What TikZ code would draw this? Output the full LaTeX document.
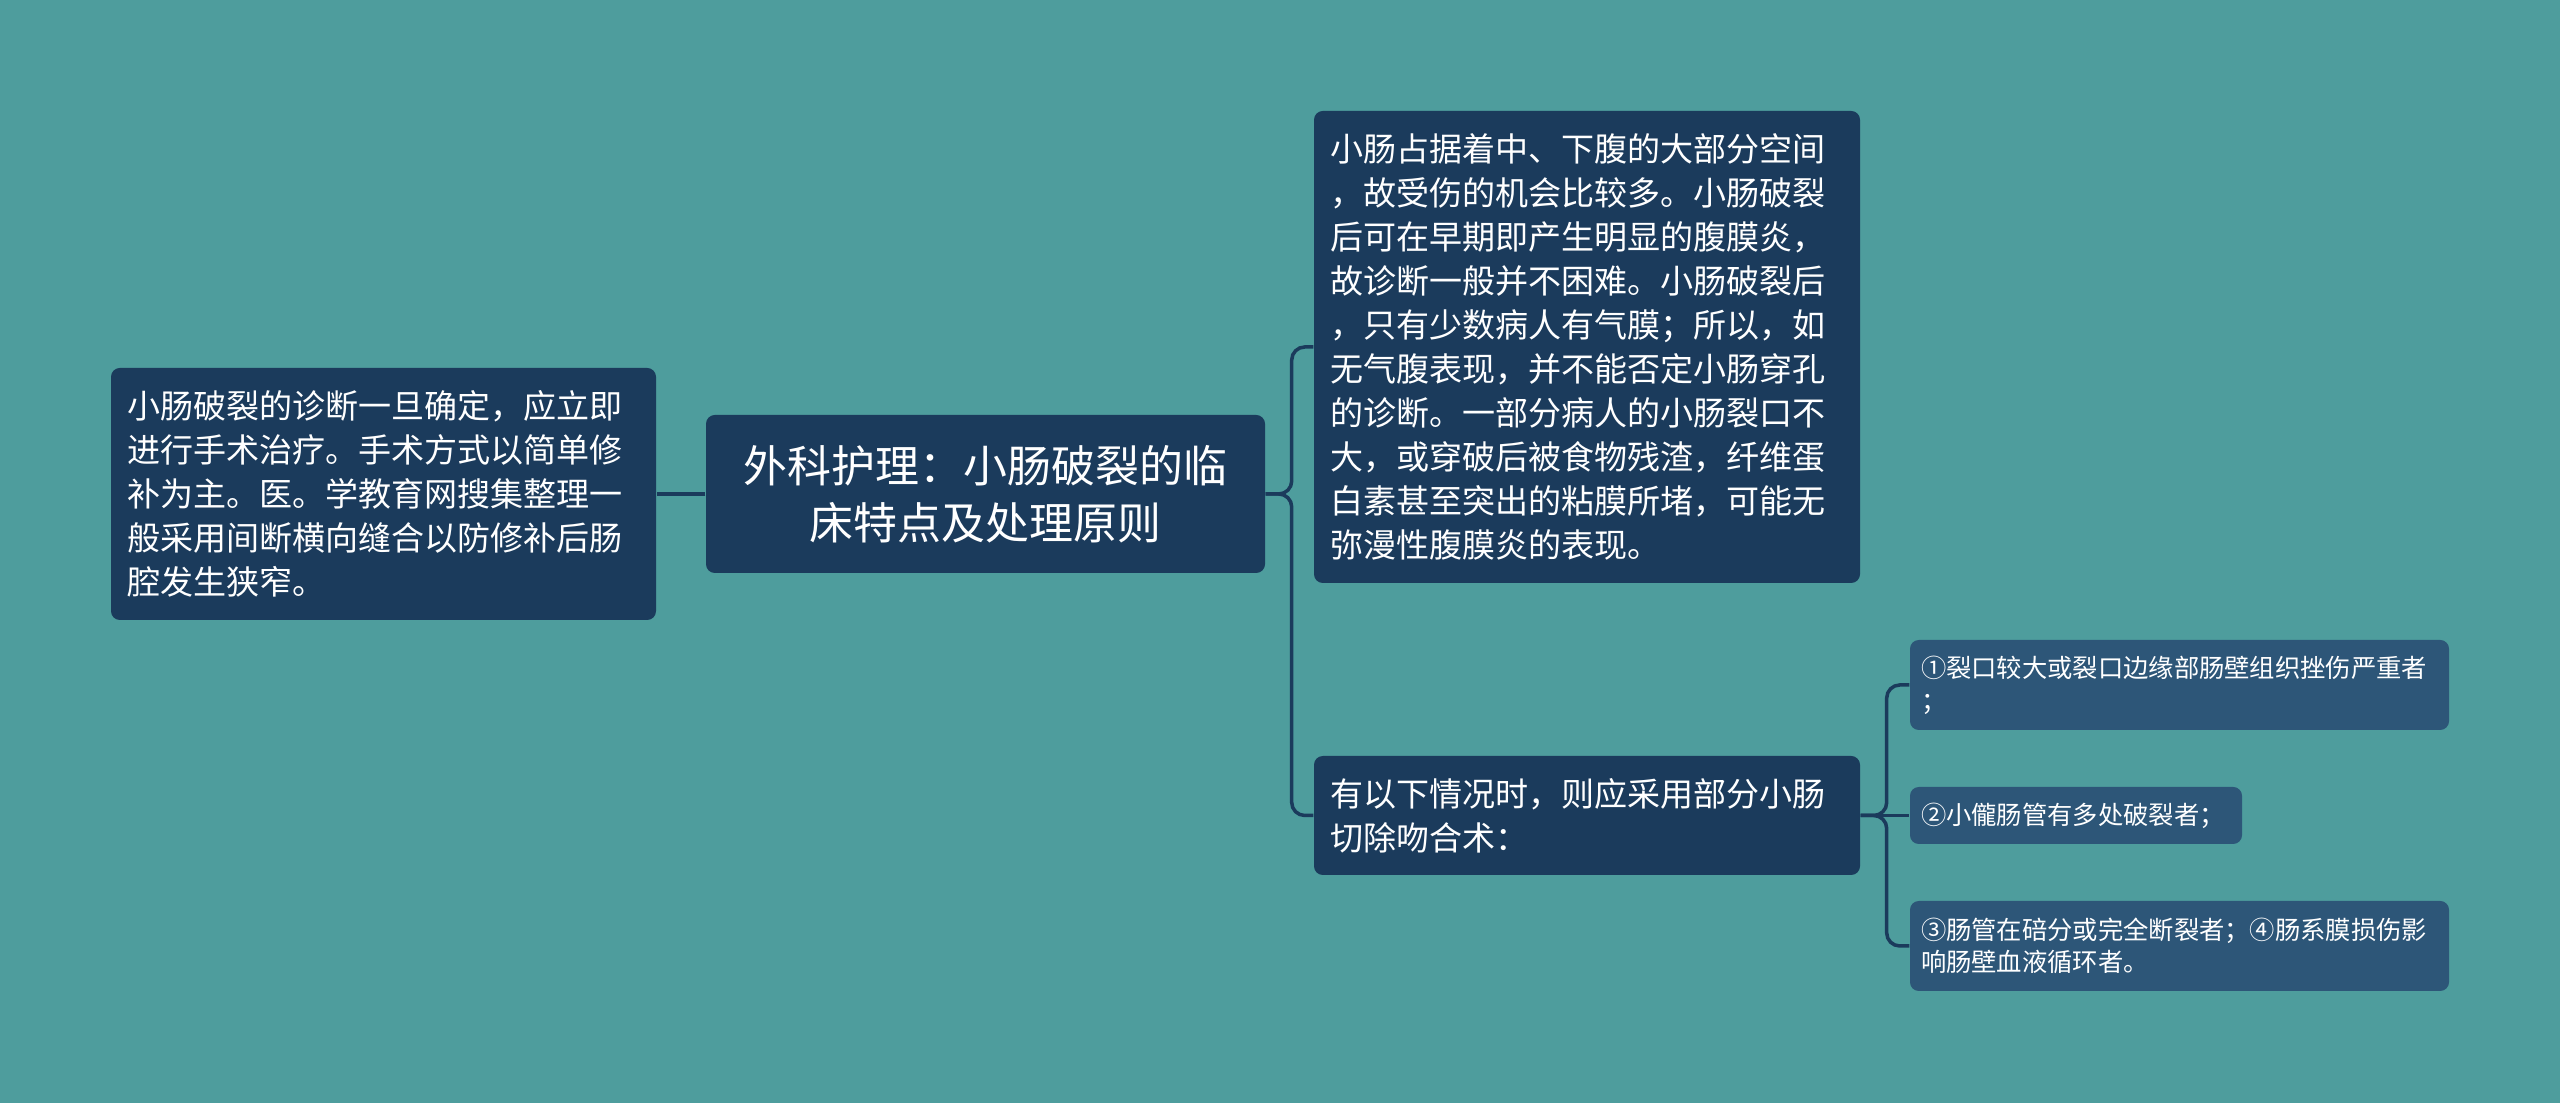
\documentclass[tikz,border=0pt]{standalone}
\usepackage{fontspec}
\setmainfont{Noto Sans CJK SC}
\usepackage{tikz}
\definecolor{bgteal}{RGB}{78,157,157}
\definecolor{boxnavy}{RGB}{27,59,92}
\definecolor{leafnavy}{RGB}{45,86,120}

\begin{document}
\begin{tikzpicture}[
	box/.style={fill=boxnavy,text=white,rounded corners=2.5pt,align=left,inner ysep=0pt,inner xsep=0.16cm,font=\fontsize{9.4pt}{12.5pt}\selectfont},
	leaf/.style={box,fill=leafnavy,inner xsep=0.11cm,font=\fontsize{7.2pt}{9.3pt}\selectfont},
	link/.style={draw=boxnavy,line width=1pt,rounded corners=0.13cm}]
	\fill[bgteal] (0,0) rectangle (25.6,11.03);
	
	\node[box,align=center,text width=5.27cm,minimum height=1.58cm,font=\fontsize{12.5pt}{16.2pt}\selectfont] (core) at (9.855,6.09) {外科护理：小肠破裂的临\\床特点及处理原则};
	\node[box,text width=5.13cm,minimum height=2.52cm] (left) at (3.835,6.09) {小肠破裂的诊断一旦确定，应立即\\进行手术治疗。手术方式以简单修\\补为主。医。学教育网搜集整理一\\般采用间断横向缝合以防修补后肠\\腔发生狭窄。};
	\node[box,text width=5.14cm,minimum height=4.72cm] (r1) at (15.87,7.56) {小肠占据着中、下腹的大部分空间\\，故受伤的机会比较多。小肠破裂\\后可在早期即产生明显的腹膜炎，\\故诊断一般并不困难。小肠破裂后\\，只有少数病人有气膜；所以，如\\无气腹表现，并不能否定小肠穿孔\\的诊断。一部分病人的小肠裂口不\\大，或穿破后被食物残渣，纤维蛋\\白素甚至突出的粘膜所堵，可能无\\弥漫性腹膜炎的表现。};
	\node[box,text width=5.14cm,minimum height=1.19cm] (r2) at (15.87,2.875) {有以下情况时，则应采用部分小肠\\切除吻合术：};
	
	\node[leaf,text width=5.17cm,minimum height=0.90cm] (leaf1) at (21.795,4.18) {①裂口较大或裂口边缘部肠壁组织挫伤严重者\\；};
	\node[leaf,text width=3.10cm,minimum height=0.57cm] (leaf2) at (20.76,2.875) {②小儱肠管有多处破裂者；};
	\node[leaf,text width=5.17cm,minimum height=0.90cm] (leaf3) at (21.795,1.57) {③肠管在碚分或完全断裂者；④肠系膜损伤影\\响肠壁血液循环者。};
	
	\draw[link] (core.west) -- (left.east);
	\draw[link] (core.east) -- ++(0.26,0) |- (r1.west);
	\draw[link] (core.east) -- ++(0.26,0) |- (r2.west);
	\draw[link] (r2.east) -- ++(0.26,0) |- (leaf1.west);
	\draw[link] (r2.east) -- (leaf2.west);
	\draw[link] (r2.east) -- ++(0.26,0) |- (leaf3.west);
\end{tikzpicture}
\end{document}
